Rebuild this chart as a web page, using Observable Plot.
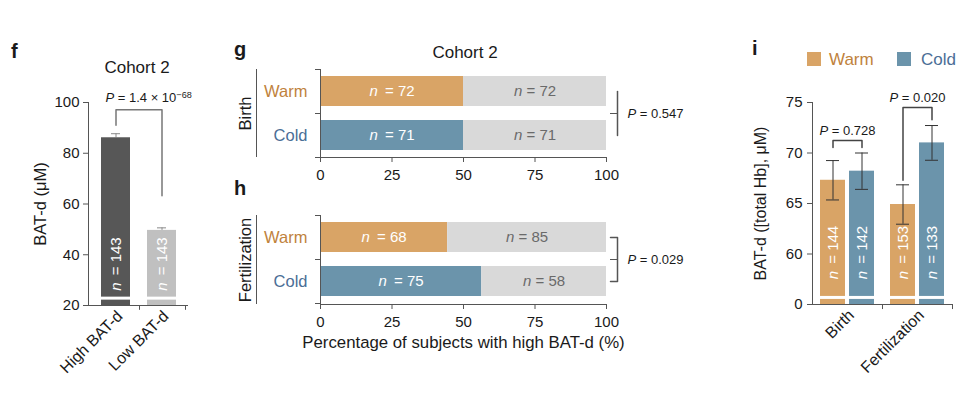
<!DOCTYPE html>
<html><head><meta charset="utf-8">
<script src="https://cdn.jsdelivr.net/npm/d3@7"></script>
<script src="https://cdn.jsdelivr.net/npm/@observablehq/plot@0.6"></script>
<style>
body{margin:0;background:#fff;font-family:'Liberation Sans',Arial,Helvetica,sans-serif;}
#root{position:relative;width:960px;height:393px;overflow:hidden;background:#fff;}
.abs{position:absolute;}
</style></head><body><div id="root"></div>
<script>
// ---------- DATA ----------
// Panel f
const fGroups = ["High BAT-d", "Low BAT-d"];
const fMeans = [86.1, 49.6];
const fErr = [1.6, 1.0];
const fN = [143, 143];
const fFills = ["#575757", "#c0c0c0"];
const fP = "P = 1.4 × 10^−68";
const fTicks = [20, 40, 60, 80, 100];

// Panels g / h
const conds = ["Warm", "Cold"];
const gHigh = [72, 71];
const gLow = [72, 71];
const hHigh = [68, 75];
const hLow = [85, 58];
const gP = "P = 0.547";
const hP = "P = 0.029";
const pctTicks = [0, 25, 50, 75, 100];

// Panel i
const iTimes = ["Birth", "Fertilization"];
const iWarmMean = [67.3, 64.9];
const iColdMean = [68.2, 71.0];
const iWarmErr = [1.95, 1.95];
const iColdErr = [1.8, 1.72];
const iWarmN = [144, 153];
const iColdN = [142, 133];
const iP = ["P = 0.728", "P = 0.020"];
const iTicks = [55, 60, 65, 70, 75];

// ---------- STYLE ----------
const FONT = "'Liberation Sans', Arial, Helvetica, sans-serif";
const barColor = {Warm: "#d9a466", Cold: "#6b94ab"};
const textColor = {Warm: "#c0823c", Cold: "#4b6e96"};
const AX = "#555";
const baseStyle = {background: "transparent", overflow: "visible", fontFamily: FONT, fontSize: "15px", color: "#1a1a1a"};

const root = document.getElementById("root");
function place(node, left, top) {
  const d = document.createElement("div");
  d.className = "abs"; d.style.left = left + "px"; d.style.top = top + "px";
  d.appendChild(node); root.appendChild(d);
}
function label(text, x, baseline, {size = 16, weight = "normal", anchor = "start", color = "#1a1a1a"} = {}) {
  const d = document.createElement("div");
  d.className = "abs"; d.textContent = text;
  Object.assign(d.style, {fontSize: size + "px", fontWeight: weight, lineHeight: "1", color, whiteSpace: "nowrap",
    left: x + "px", top: (baseline - 0.85 * size) + "px"});
  if (anchor === "middle") d.style.transform = "translateX(-50%)";
  root.appendChild(d);
}
function swatch(x, y, color) {
  const d = document.createElement("div");
  d.className = "abs";
  Object.assign(d.style, {left: x + "px", top: y + "px", width: "14px", height: "14px", background: color});
  root.appendChild(d);
}

// ---------- PANEL f ----------
const fRows = fGroups.map((g, i) => ({group: g, mean: fMeans[i], err: fErr[i], n: fN[i], fill: fFills[i]}));
const fBracket = [
  {group: fGroups[0], y: 91}, {group: fGroups[0], y: 97.1},
  {group: fGroups[1], y: 97.1}, {group: fGroups[1], y: 63.3}
];
const fPlot = Plot.plot({
  width: 240, height: 393, marginLeft: 88, marginRight: 52, marginTop: 102, marginBottom: 88,
  style: baseStyle,
  x: {domain: fGroups, paddingInner: 0.372, paddingOuter: 0.25},
  y: {domain: [20, 100]},
  color: {type: "identity"},
  marks: [
    Plot.ruleX(fRows, {x: "group", y1: "mean", y2: d => d.mean + d.err, stroke: "#8a8a8a"}),
    Plot.tickY(fRows, {x: "group", y: d => d.mean + d.err, stroke: "#8a8a8a", insetLeft: 10, insetRight: 10}),
    Plot.barY(fRows, {x: "group", y1: 20, y2: "mean", fill: "fill"}),
    Plot.tickY(fRows, {x: "group", y: 22.9, stroke: "white", strokeWidth: 3}),
    Plot.text(fRows, {x: "group", y: 25.8, text: d => `n = ${d.n}`, rotate: -90, textAnchor: "start", fill: "white", fontSize: 15}),
    Plot.ruleY([20], {stroke: AX}),
    Plot.frame({anchor: "left", stroke: AX}),
    Plot.ruleX(fGroups, {x: d => d, y1: 20, y2: 18.1, dx: 23.5, stroke: AX}),
    Plot.axisY({ticks: fTicks, tickSize: 5, tickPadding: 4, label: null, stroke: AX, fill: "#1a1a1a", fontSize: 15}),
    Plot.axisX({tickRotate: -45, tickSize: 0, tickPadding: 8, dx: 4, label: null, fontSize: 16}),
    Plot.line(fBracket, {x: "group", y: "y", stroke: "#777"}),
    Plot.text([fP], {x: () => fGroups[0], y: () => 101.9, text: d => d, textAnchor: "start", dx: -10.5, fontSize: 13}),
    Plot.text(["BAT-d (μM)"], {frameAnchor: "left", textAnchor: "middle", text: d => d, rotate: -90, dx: -48, fontSize: 16.5})
  ]
});
place(fPlot, 0, 0);

// ---------- PANELS g / h ----------
function stackPanel({high, low, group, height, marginTop, marginBottom, pText, capped, xTitle}) {
  const rows = conds.map((c, i) => ({cond: c, high: high[i], low: low[i], pct: 100 * high[i] / (high[i] + low[i])}));
  const upx = 100 / (460 - 80 - 94);
  const a = 100 + 4 * upx, b = 100 + 11 * upx;
  const bracket = capped
    ? [{x: a, c: "Warm"}, {x: b, c: "Warm"}, {x: b, c: "Cold"}, {x: a, c: "Cold"}]
    : [{x: b, c: "Warm"}, {x: b, c: "Cold"}];
  const marks = [
    Plot.barX(rows, {y: "cond", x1: 0, x2: "pct", fill: d => barColor[d.cond]}),
    Plot.barX(rows, {y: "cond", x1: "pct", x2: 100, fill: "#d9d9d9"}),
    Plot.text(rows, {y: "cond", x: d => d.pct / 2, text: d => `n = ${d.high}`, fill: "white", fontSize: 15}),
    Plot.text(rows, {y: "cond", x: d => (d.pct + 100) / 2, text: d => `n = ${d.low}`, fill: "#6a6a6a", fontSize: 15}),
    Plot.text(rows, {y: "cond", text: "cond", frameAnchor: "left", textAnchor: "end", dx: -13, fill: d => textColor[d.cond], fontSize: 16.5}),
    Plot.ruleX([0], {stroke: AX}),
    Plot.frame({anchor: "bottom", stroke: AX}),
    Plot.axisY(conds, {dy: -22, tickSize: 5, tickFormat: () => "", label: null, stroke: AX}),
    Plot.axisY(["Cold"], {dy: 22, tickSize: 5, tickFormat: () => "", label: null, stroke: AX}),
    Plot.axisX({ticks: pctTicks, tickSize: 5, tickPadding: 7, label: null, stroke: AX, fill: "#1a1a1a", fontSize: 15}),
    Plot.text([group], {frameAnchor: "left", textAnchor: "middle", text: d => d, rotate: -90, dx: -75, fontSize: 16.5}),
    Plot.ruleX([0], {dx: -64, stroke: AX}),
    Plot.line(bracket, {x: "x", y: "c", stroke: AX}),
    Plot.ruleY(["Warm"], {y: d => d, dy: 22, x1: a, x2: b, stroke: AX}),
    Plot.text([pText], {y: () => "Warm", x: () => 100, dy: 22, dx: 21, text: d => d, textAnchor: "start", fontSize: 13})
  ];
  if (xTitle) marks.push(Plot.text([xTitle], {frameAnchor: "bottom", textAnchor: "middle", text: d => d, dy: 43, fontSize: 16.8}));
  return Plot.plot({
    width: 460, height, marginLeft: 80, marginRight: 94, marginTop, marginBottom, style: baseStyle,
    x: {domain: [0, 100]},
    y: {domain: conds, paddingInner: 0.318, paddingOuter: 0.159},
    color: {type: "identity"},
    marks
  });
}
place(stackPanel({high: gHigh, low: gLow, group: "Birth", height: 195, marginTop: 69, marginBottom: 38, pText: gP, capped: false}), 240, 0);
place(stackPanel({high: hHigh, low: hLow, group: "Fertilization", height: 198, marginTop: 20, marginBottom: 89, pText: hP, capped: true,
  xTitle: "Percentage of subjects with high BAT-d (%)"}), 240, 195);

// ---------- PANEL i ----------
const iRows = [];
iTimes.forEach((t, k) => {
  iRows.push({time: t, cond: "Warm", mean: iWarmMean[k], err: iWarmErr[k], n: iWarmN[k]});
  iRows.push({time: t, cond: "Cold", mean: iColdMean[k], err: iColdErr[k], n: iColdN[k]});
});
const iBracketLevels = [[70.55, 71.25, 71.25, 70.55], [67.3, 74.5, 74.5, 73.3]];
const iBracketPts = iTimes.flatMap((t, k) => ["Warm", "Warm", "Cold", "Cold"].map((c, j) => ({time: t, cond: c, y: iBracketLevels[k][j]})));
const iPRows = iTimes.map((t, k) => ({time: t, cond: "Warm", p: iP[k], y: [72.2, 75.5][k]}));
const iPlot = Plot.plot({
  width: 260, height: 393, marginLeft: 112, marginRight: 8, marginTop: 102, marginBottom: 89, style: baseStyle,
  fx: {domain: iTimes, padding: 0, label: null},
  x: {domain: conds, paddingInner: 0.14, paddingOuter: 0.276, axis: null},
  y: {domain: [55, 75]},
  color: {type: "identity"},
  marks: [
    Plot.barY(iRows, {fx: "time", x: "cond", y1: 55, y2: "mean", fill: d => barColor[d.cond]}),
    Plot.tickY(iRows, {fx: "time", x: "cond", y: 55.7, stroke: "white", strokeWidth: 3}),
    Plot.text(iRows, {fx: "time", x: "cond", y: 57.5, text: d => `n = ${d.n}`, rotate: -90, textAnchor: "start", fill: "white", fontSize: 15}),
    Plot.ruleX(iRows, {fx: "time", x: "cond", y1: d => d.mean - d.err, y2: d => d.mean + d.err, stroke: "#333"}),
    Plot.tickY(iRows, {fx: "time", x: "cond", y: d => d.mean - d.err, stroke: "#333", insetLeft: 6, insetRight: 6}),
    Plot.tickY(iRows, {fx: "time", x: "cond", y: d => d.mean + d.err, stroke: "#333", insetLeft: 6, insetRight: 6}),
    Plot.ruleY([55], {stroke: AX}),
    Plot.ruleX([{time: iTimes[0], cond: "Warm"}], {fx: "time", x: "cond", dx: -20.5, stroke: AX}),
    Plot.ruleX(iTimes.map(t => ({time: t, cond: "Cold"})), {fx: "time", x: "cond", y1: 55, y2: 54.5, dx: 20.5, stroke: AX}),
    Plot.axisY({ticks: iTicks, tickFormat: d => d === 55 ? "0" : d, tickSize: 5, tickPadding: 5, label: null, stroke: AX, fill: "#1a1a1a", fontSize: 15}),
    Plot.axisFx({anchor: "bottom", tickRotate: -45, tickSize: 0, tickPadding: 8, dx: 4, label: null, fontSize: 16}),
    Plot.line(iBracketPts, {fx: "time", x: "cond", y: "y", z: "time", stroke: "#444"}),
    Plot.text(iPRows, {fx: "time", x: "cond", y: "y", dx: 14.5, text: "p", fontSize: 13}),
    Plot.text([{time: iTimes[0], t: "BAT-d ([total Hb], μM)"}], {fx: "time", frameAnchor: "left", textAnchor: "middle", text: "t", rotate: -90, dx: -52, fontSize: 16})
  ]
});
place(iPlot, 700, 0);

// ---------- TITLES / LEGEND ----------
label("f", 11, 58, {size: 20, weight: "bold"});
label("g", 234, 56, {size: 20, weight: "bold"});
label("h", 234, 195, {size: 20, weight: "bold"});
label("i", 752, 55, {size: 20, weight: "bold"});
label("Cohort 2", 137, 73, {size: 17, anchor: "middle"});
label("Cohort 2", 465, 58, {size: 17, anchor: "middle"});
swatch(807, 52, barColor.Warm);
label("Warm", 829, 65, {size: 17, color: textColor.Warm});
swatch(897, 52, barColor.Cold);
label("Cold", 921, 65, {size: 17, color: textColor.Cold});

// ---------- italic n / P and superscripts ----------
d3.selectAll("#root svg text").each(function () {
  if (this.querySelector("tspan")) return;
  const s = this.textContent;
  const fill = this.getAttribute("fill") || (this.parentNode && this.parentNode.getAttribute("fill")) || "";
  let m;
  if ((m = s.match(/^n = (.*)$/))) {
    this.textContent = "";
    const t = d3.select(this);
    t.append("tspan").attr("font-style", "italic").text("n");
    t.append("tspan").attr("dx", fill === "white" ? 3 : 0).text(" = " + m[1]);
  } else if ((m = s.match(/^P = (.*)$/))) {
    this.textContent = "";
    const t = d3.select(this);
    t.append("tspan").attr("font-style", "italic").text("P");
    const parts = m[1].split("^");
    t.append("tspan").text(" = " + parts[0]);
    if (parts[1]) t.append("tspan").attr("dy", "-0.45em").attr("font-size", "70%").text(parts[1]);
  }
});
</script></body></html>
